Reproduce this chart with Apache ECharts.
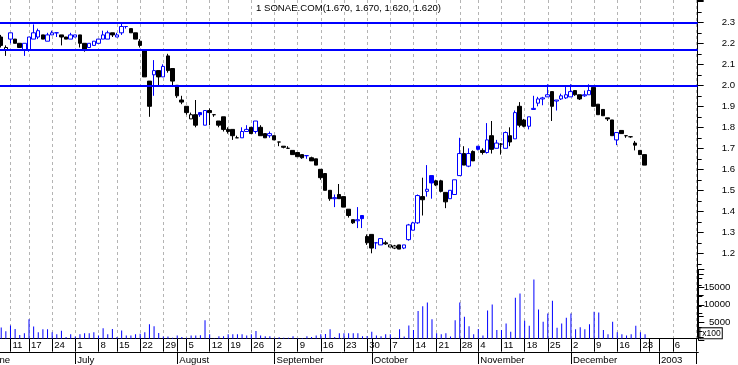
<!DOCTYPE html>
<html><head><meta charset="utf-8">
<script src="https://cdn.jsdelivr.net/npm/echarts@6/dist/echarts.min.js"></script>
<style>html,body{margin:0;padding:0;background:#fff;overflow:hidden;width:738px;height:365px}#c{width:753px;height:365px;margin-left:-15px}</style>
</head><body><div id="c"></div>
<script>
const stockName = '1 SONAE.COM';
const monthNames = ['January','February','March','April','May','June','July','August','September','October','November','December'];
const preDates = ['2002-06-03','2002-06-04','2002-06-05'];
const tradeDates = [
'2002-06-06','2002-06-07','2002-06-11','2002-06-12','2002-06-13','2002-06-14',
'2002-06-17','2002-06-18','2002-06-19','2002-06-20','2002-06-21',
'2002-06-24','2002-06-25','2002-06-26','2002-06-27','2002-06-28',
'2002-07-01','2002-07-02','2002-07-03','2002-07-04','2002-07-05',
'2002-07-08','2002-07-09','2002-07-10','2002-07-11',
'2002-07-15','2002-07-16','2002-07-17','2002-07-18','2002-07-19',
'2002-07-22','2002-07-23','2002-07-24','2002-07-25','2002-07-26',
'2002-07-29','2002-07-30','2002-07-31','2002-08-01','2002-08-02',
'2002-08-05','2002-08-06','2002-08-07','2002-08-08','2002-08-09',
'2002-08-12','2002-08-13','2002-08-14','2002-08-16',
'2002-08-19','2002-08-20','2002-08-21','2002-08-22','2002-08-23',
'2002-08-26','2002-08-27','2002-08-28','2002-08-29','2002-08-30',
'2002-09-02','2002-09-03','2002-09-04','2002-09-05','2002-09-06',
'2002-09-09','2002-09-10','2002-09-11','2002-09-12','2002-09-13',
'2002-09-16','2002-09-17','2002-09-18','2002-09-19','2002-09-20',
'2002-09-23','2002-09-24','2002-09-25','2002-09-26','2002-09-27',
'2002-09-30','2002-10-01','2002-10-02','2002-10-03','2002-10-04',
'2002-10-07','2002-10-08','2002-10-09','2002-10-10','2002-10-11',
'2002-10-14','2002-10-15','2002-10-16','2002-10-17','2002-10-18',
'2002-10-21','2002-10-22','2002-10-23','2002-10-24','2002-10-25',
'2002-10-28','2002-10-29','2002-10-30','2002-10-31',
'2002-11-04','2002-11-05','2002-11-06','2002-11-07','2002-11-08',
'2002-11-11','2002-11-12','2002-11-13','2002-11-14','2002-11-15',
'2002-11-18','2002-11-19','2002-11-20','2002-11-21','2002-11-22',
'2002-11-25','2002-11-26','2002-11-27','2002-11-28','2002-11-29',
'2002-12-02','2002-12-03','2002-12-04','2002-12-05','2002-12-06',
'2002-12-09','2002-12-10','2002-12-11','2002-12-12','2002-12-13',
'2002-12-16','2002-12-17','2002-12-18','2002-12-19','2002-12-20',
'2002-12-23','2002-12-27'];
const futureDates = ['2002-12-30','2002-12-31','2003-01-01','2003-01-02','2003-01-03','2003-01-06','2003-01-07','2003-01-08','2003-01-09','2003-01-10','2003-01-13'];

const open = [
2.23,2.17,2.22,2.22,2.20,2.17,
2.17,2.22,2.23,2.24,2.21,
2.24,2.25,2.24,2.23,2.22,
2.23,2.24,2.20,2.18,2.19,
2.20,2.22,2.22,2.25,
2.23,2.25,2.28,2.27,2.25,
2.21,2.17,2.02,2.05,2.07,
2.04,2.14,2.08,2.00,1.93,
1.90,1.84,1.86,1.87,1.81,
1.88,1.86,1.83,1.85,
1.79,1.79,1.75,1.75,1.78,
1.80,1.78,1.80,1.77,1.76,
1.76,1.73,1.71,1.70,1.69,
1.68,1.67,1.665,1.655,1.65,
1.60,1.58,1.50,1.46,1.48,
1.47,1.41,1.36,1.355,1.38,
1.28,1.29,1.25,1.24,1.25,
1.23,1.225,1.24,1.225,1.265,
1.31,1.345,1.47,1.495,1.57,
1.545,1.545,1.49,1.46,1.48,
1.57,1.675,1.615,1.685,
1.71,1.69,1.68,1.76,1.70,
1.72,1.70,1.76,1.745,1.90,
1.835,1.805,1.885,1.915,1.935,
1.945,1.97,1.925,1.935,1.94,
1.945,1.975,1.955,1.95,1.955,
1.99,1.91,1.885,1.845,1.835,
1.74,1.785,1.76,1.755,1.725,
1.69,1.67];
const high = [
2.24,2.19,2.25,2.22,2.20,2.20,
2.23,2.29,2.27,2.24,2.25,
2.26,2.25,2.24,2.23,2.25,
2.24,2.24,2.20,2.20,2.21,
2.22,2.26,2.26,2.25,
2.25,2.30,2.28,2.27,2.25,
2.22,2.17,2.02,2.12,2.07,
2.10,2.15,2.08,2.00,1.95,
1.90,1.87,1.93,1.87,1.88,
1.89,1.86,1.83,1.85,
1.80,1.79,1.76,1.80,1.81,
1.80,1.83,1.81,1.77,1.78,
1.76,1.73,1.71,1.71,1.69,
1.68,1.67,1.665,1.66,1.65,
1.60,1.58,1.50,1.48,1.53,
1.47,1.41,1.36,1.42,1.38,
1.29,1.29,1.25,1.27,1.26,
1.24,1.24,1.24,1.24,1.34,
1.35,1.48,1.56,1.62,1.57,
1.55,1.55,1.49,1.50,1.55,
1.75,1.71,1.70,1.69,
1.71,1.70,1.82,1.83,1.74,
1.725,1.78,1.80,1.88,1.92,
1.84,1.85,1.95,1.945,1.945,
2.005,1.97,1.93,1.96,2.00,
2.005,1.975,1.955,1.975,2.005,
1.99,1.91,1.885,1.845,1.835,
1.775,1.785,1.76,1.755,1.735,
1.69,1.67];
const low = [
2.18,2.14,2.20,2.20,2.18,2.14,
2.16,2.22,2.22,2.22,2.21,
2.24,2.23,2.19,2.22,2.22,
2.23,2.18,2.16,2.18,2.19,
2.20,2.22,2.22,2.23,
2.23,2.24,2.27,2.25,2.22,
2.18,2.04,1.85,1.95,2.00,
2.04,2.06,2.00,1.94,1.91,
1.86,1.84,1.80,1.85,1.81,
1.81,1.85,1.80,1.78,
1.77,1.74,1.75,1.75,1.78,
1.77,1.77,1.76,1.75,1.75,
1.74,1.71,1.70,1.70,1.67,
1.66,1.65,1.65,1.64,1.62,
1.55,1.50,1.45,1.42,1.46,
1.42,1.37,1.34,1.32,1.32,
1.24,1.20,1.22,1.24,1.24,
1.23,1.22,1.22,1.22,1.26,
1.31,1.34,1.38,1.47,1.46,
1.52,1.49,1.415,1.46,1.48,
1.57,1.62,1.61,1.64,
1.69,1.67,1.675,1.675,1.70,
1.67,1.70,1.71,1.745,1.80,
1.80,1.79,1.885,1.90,1.905,
1.945,1.83,1.88,1.93,1.935,
1.945,1.95,1.93,1.945,1.955,
1.90,1.86,1.855,1.83,1.76,
1.715,1.77,1.75,1.75,1.69,
1.67,1.62];
const close = [
2.19,2.18,2.25,2.20,2.18,2.20,
2.23,2.25,2.26,2.22,2.24,
2.25,2.25,2.23,2.22,2.24,
2.24,2.20,2.17,2.20,2.21,
2.22,2.24,2.25,2.24,
2.24,2.28,2.28,2.25,2.22,
2.19,2.04,1.90,2.07,2.04,
2.09,2.07,2.02,1.95,1.92,
1.87,1.86,1.81,1.86,1.88,
1.87,1.86,1.81,1.79,
1.78,1.76,1.75,1.78,1.79,
1.77,1.83,1.76,1.75,1.77,
1.74,1.73,1.705,1.70,1.67,
1.66,1.655,1.665,1.64,1.62,
1.56,1.50,1.46,1.465,1.46,
1.42,1.38,1.345,1.36,1.365,
1.25,1.225,1.25,1.27,1.245,
1.24,1.235,1.22,1.24,1.335,
1.345,1.475,1.455,1.505,1.535,
1.525,1.495,1.445,1.50,1.55,
1.675,1.62,1.675,1.64,
1.695,1.68,1.74,1.695,1.725,
1.72,1.775,1.73,1.87,1.81,
1.805,1.85,1.89,1.935,1.94,
1.955,1.90,1.93,1.95,1.955,
1.97,1.955,1.935,1.955,1.975,
1.90,1.86,1.855,1.84,1.76,
1.775,1.77,1.76,1.755,1.715,
1.67,1.62];
const volume = [
3200,2100,3800,2750,1050,1530,
5550,3500,1820,2700,2700,
1820,1250,2250,450,1250,
600,1250,1530,1530,1820,
880,2950,1250,2800,
480,2350,880,880,1250,
1400,1820,4090,3550,1600,
600,600,300,900,480,
300,900,900,1000,5230,
1250,150,700,700,
1250,1250,1250,1250,880,
1250,2190,880,700,700,
300,400,300,300,700,
200,200,700,500,880,
1250,1350,2700,450,1530,
1530,1530,1530,1530,700,
750,2000,880,700,1250,
1250,300,2670,600,3800,
2470,7870,9250,10340,5550,
1530,1250,1530,600,5260,
10340,6280,3580,1250,
2750,880,8050,9770,2470,
2470,4370,2000,11670,12900,
5140,3720,16870,8350,4850,
7210,10820,3150,4370,5990,
7210,2670,3240,2670,4090,
7700,7500,2470,1250,4850,
1820,1250,880,1250,3720,
1820,1250];

const priceLabels = [1.2,1.3,1.4,1.5,1.6,1.7,1.8,1.9,2.0,2.1,2.2,2.3];
const volumeLabels = [5000,10000,15000];
const levelLines = [2.30, 2.171, 2.005];

const BLUE = '#0000ff', BLACK = '#000000';
const FONT = 'Liberation Sans, Arial, sans-serif';
const categories = preDates.concat(tradeDates, futureDates);
const off = preDates.length;
const tradeEnd = off + tradeDates.length;
const lastIdx = categories.length - 1;

function dayNum(s){ return Date.UTC(+s.slice(0,4), +s.slice(5,7)-1, +s.slice(8,10)) / 86400000; }
function weekKey(s){ const n = dayNum(s); const dow = (new Date(n*86400000).getUTCDay()+6)%7; return n - dow; }
const weekStart = categories.map((d,i)=> i===0 || weekKey(d)!==weekKey(categories[i-1]));
const monthStart = categories.map((d,i)=> i===0 || d.slice(0,7)!==categories[i-1].slice(0,7));
const weekMark = weekStart.map((w,i)=> w && i!==tradeEnd);
const weekLabel = weekMark.map((w,i)=> w && i!==lastIdx);
const row1Tick = categories.map((d,i)=> weekStart[i] || monthStart[i]);
const row2Tick = categories.map((d,i)=> monthStart[i] || i===lastIdx);

const candleData = categories.map((d,i)=>{
  const k = i - off;
  if (k < 0 || k >= close.length) return ['-','-','-','-'];
  const o = open[k], c = close[k];
  const ref = k === 0 ? o : close[k-1];
  const col = (k === 0 ? c > o : c >= ref) ? BLUE : BLACK;
  const fill = c > o ? '#ffffff' : col;
  return { value: [o, c, low[k], high[k]],
    itemStyle: { color: fill, color0: fill, borderColor: col, borderColor0: col, borderColorDoji: col, borderWidth: 1 } };
});
const volData = categories.map((d,i)=>{ const k = i - off; return (k<0||k>=volume.length) ? '-' : volume[k]; });
const n = close.length - 1;
const fmt = v => v.toFixed(3);
const titleText = stockName + '(' + [open[n], high[n], low[n], close[n]].map(fmt).join(', ') + ')';

const GL = 0, GW = 713.33;
const chart = echarts.init(document.getElementById('c'), null, {renderer:'canvas'});
chart.setOption({
  animation: false,
  backgroundColor: '#ffffff',
  title: { text: titleText, left: 271, top: 3, padding: 0,
    textStyle: { fontSize: 9.6, fontWeight: 'normal', color: '#000', fontFamily: FONT } },
  grid: [
    { left: GL, width: GW, top: 0, height: 337.3 },
    { left: GL, width: GW, top: 0, height: 340 },
    { left: GL, width: GW, top: 269.6, height: 70.4 }
  ],
  xAxis: [
    { type:'category', gridIndex:0, data:categories, boundaryGap:true, show:false },
    { type:'category', gridIndex:1, data:categories, boundaryGap:true, position:'bottom',
      axisLine:{ show:true, onZero:false, lineStyle:{ color:'#000', width:1 } },
      axisTick:{ show:true, alignWithLabel:true, length:13, interval:(i)=>row1Tick[i], lineStyle:{ color:'#000', width:1 } },
      axisLabel:{ show:true, interval:(i)=>weekLabel[i], formatter:(v)=>String(+v.slice(8,10)),
        align:'left', padding:[0,0,0,2], margin:2, fontSize:9.6, color:'#000', fontFamily:FONT },
      splitLine:{ show:true, alignWithLabel:true, interval:(i)=>weekMark[i],
        lineStyle:{ color:'#b4b4b4', width:1, type:[3,3] } } },
    { type:'category', gridIndex:1, data:categories, boundaryGap:true, position:'bottom', offset:13.3,
      axisLine:{ show:true, onZero:false, lineStyle:{ color:'#000', width:1 } },
      axisTick:{ show:true, alignWithLabel:true, length:12, interval:(i)=>row2Tick[i], lineStyle:{ color:'#000', width:1 } },
      axisLabel:{ show:true, interval:(i)=>monthStart[i],
        formatter:(v)=>{ const m = +v.slice(5,7)-1; return m===0 ? v.slice(0,4) : monthNames[m]; },
        align:'left', padding:[0,0,0,2], margin:3, fontSize:9.6, color:'#000', fontFamily:FONT },
      splitLine:{ show:false } },
    { type:'category', gridIndex:2, data:categories, boundaryGap:true, show:false }
  ],
  yAxis: [
    { type:'value', gridIndex:0, position:'right', min:0.8, max:2.4062, interval:0.1,
      axisLine:{ show:true, lineStyle:{ color:'#000', width:1 } },
      axisTick:{ show:true, length:6, lineStyle:{ color:'#000' } },
      minorTick:{ show:true, splitNumber:2, length:4, lineStyle:{ color:'#000' } },
      splitLine:{ show:false },
      axisLabel:{ margin:24, align:'left', padding:[3,0,0,0], fontSize:9.6, color:'#000', fontFamily:FONT,
        formatter:(v)=> priceLabels.some(t=>Math.abs(t-v)<1e-6) ? v.toFixed(1) : '' } },
    { type:'value', gridIndex:1, position:'right', min:0, max:96600, show:false, splitLine:{show:false} },
    { type:'value', gridIndex:2, position:'right', min:0, max:20000, interval:5000,
      axisLine:{ show:true, lineStyle:{ color:'#000', width:1 } },
      axisTick:{ show:true, length:6, lineStyle:{ color:'#000' } },
      minorTick:{ show:true, splitNumber:2, length:4, lineStyle:{ color:'#000' } },
      splitLine:{ show:false },
      axisLabel:{ margin:32, align:'right', fontSize:9.6, color:'#000', fontFamily:FONT,
        formatter:(v)=> volumeLabels.indexOf(v) >= 0 ? String(v) : '' },
      name:'{b|x100}', nameLocation:'start', nameGap:-13,
      nameTextStyle:{ align:'left', verticalAlign:'top', padding:[0,0,0,2], fontFamily:FONT, fontSize:8.5, color:'#000',
        rich:{ b:{ fontSize:8.5, fontFamily:FONT, color:'#000', borderColor:'#000', borderWidth:1, padding:[1,1,0,2], backgroundColor:'#fff' } } } }
  ],
  series: [
    { type:'bar', name:'Volume', xAxisIndex:1, yAxisIndex:1, data:volData, barWidth:1,
      itemStyle:{ color:BLUE }, silent:true },
    { type:'candlestick', name:stockName, xAxisIndex:0, yAxisIndex:0, data:candleData, barWidth:4,
      silent:true,
      markLine:{ silent:true, symbol:['none','none'], label:{show:false},
        lineStyle:{ color:BLUE, width:2, type:'solid' },
        data: levelLines.map(v=>({ yAxis:v })) } }
  ]
});
</script>
</body></html>
